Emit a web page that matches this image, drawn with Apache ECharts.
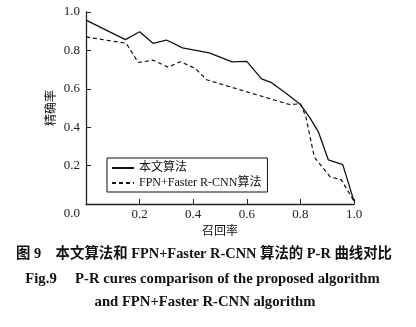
<!DOCTYPE html>
<html><head><meta charset="utf-8">
<script src="https://cdn.jsdelivr.net/npm/echarts@6/dist/echarts.min.js"></script>
<style>html,body{margin:0;padding:0;background:#fff}#c{width:416px;height:327px}</style>
</head><body><div id="c"></div>
<script>
var seriesNames = ['本文算法', 'FPN+Faster R-CNN算法'];
var oursRecall = [0, 0.147, 0.2, 0.25, 0.3, 0.36, 0.46, 0.545, 0.6, 0.655, 0.69, 0.745, 0.8, 0.835, 0.867, 0.904, 0.958, 1.0];
var oursPrecision = [0.958, 0.856, 0.897, 0.837, 0.854, 0.813, 0.787, 0.74, 0.743, 0.652, 0.634, 0.578, 0.518, 0.45, 0.376, 0.23, 0.205, 0.015];
var fpnRecall = [0, 0.15, 0.195, 0.25, 0.307, 0.352, 0.407, 0.45, 0.76, 0.8, 0.82, 0.852, 0.912, 0.952, 1.0];
var fpnPrecision = [0.87, 0.837, 0.737, 0.749, 0.713, 0.741, 0.707, 0.647, 0.518, 0.522, 0.456, 0.244, 0.14, 0.127, 0.015];
var axisTicks = [0, 0.2, 0.4, 0.6, 0.8, 1.0];
var xName = '召回率';
var yName = '精确率';
var captionLines = ['图 9　本文算法和 FPN+Faster R-CNN 算法的 P-R 曲线对比', 'Fig.9　 P-R cures comparison of the proposed algorithm', 'and FPN+Faster R-CNN algorithm'];

function pairs(xs, ys) { return xs.map(function (x, i) { return [x, ys[i]]; }); }
var FONT = '"Liberation Serif", "Noto Sans CJK SC", serif';
var chart = echarts.init(document.getElementById('c'));
chart.setOption({
  animation: false,
  backgroundColor: '#fff',
  grid: { left: 86, right: 62, top: 12, bottom: 123 },
  legend: {
    orient: 'vertical', left: 107, top: 158,
    padding: [4, 6, 3, 4], itemGap: 3, itemWidth: 22, itemHeight: 10,
    borderColor: '#111', borderWidth: 1,
    itemStyle: { color: 'transparent', borderColor: 'transparent', borderWidth: 0, opacity: 0 },
    textStyle: { fontFamily: FONT, fontSize: 12, color: '#111' },
    data: seriesNames
  },
  xAxis: {
    type: 'value', min: 0, max: 1, interval: 0.2,
    name: xName, nameLocation: 'middle', nameGap: 21,
    nameTextStyle: { fontFamily: FONT, fontSize: 12, color: '#111' },
    axisLine: { lineStyle: { color: '#222', width: 1.3 } },
    axisTick: { inside: true, length: 5, lineStyle: { color: '#222' } },
    splitLine: { show: false },
    axisLabel: { margin: 4, fontFamily: FONT, fontSize: 13, color: '#222',
      formatter: function (v) { return v === 0 ? '' : v.toFixed(1); } }
  },
  yAxis: {
    type: 'value', min: 0, max: 1, interval: 0.2,
    name: yName, nameLocation: 'middle', nameGap: 28, nameMoveOverlap: false,
    nameTextStyle: { fontFamily: FONT, fontSize: 12, color: '#111' },
    axisLine: { show: true, lineStyle: { color: '#222', width: 1.3 } },
    axisTick: { show: true, inside: true, length: 5, lineStyle: { color: '#222' } },
    splitLine: { show: false },
    axisLabel: { margin: 6, fontFamily: FONT, fontSize: 13, color: '#222',
      formatter: function (v) { return v === 0 ? '{z|0.0}' : v.toFixed(1); },
      rich: { z: { fontFamily: FONT, fontSize: 13, color: '#222', padding: [20, 0, 0, 0] } } }
  },
  series: [
    { name: seriesNames[0], type: 'line', symbol: 'none', data: pairs(oursRecall, oursPrecision),
      lineStyle: { color: '#111', width: 1.3, type: 'solid' }, itemStyle: { color: '#111' } },
    { name: seriesNames[1], type: 'line', symbol: 'none', data: pairs(fpnRecall, fpnPrecision),
      lineStyle: { color: '#111', width: 1.2, type: [4, 3] }, itemStyle: { color: '#111' } }
  ],
  graphic: [
    { type: 'text', x: 204, y: 247, style: { text: captionLines[0], font: 'bold 14.4px ' + FONT, fill: '#111', textAlign: 'center', textVerticalAlign: 'top' } },
    { type: 'text', x: 202.5, y: 272, style: { text: captionLines[1], font: 'bold 14.7px ' + FONT, fill: '#111', textAlign: 'center', textVerticalAlign: 'top' } },
    { type: 'text', x: 205, y: 295, style: { text: captionLines[2], font: 'bold 14.7px ' + FONT, fill: '#111', textAlign: 'center', textVerticalAlign: 'top' } }
  ]
});
</script></body></html>
